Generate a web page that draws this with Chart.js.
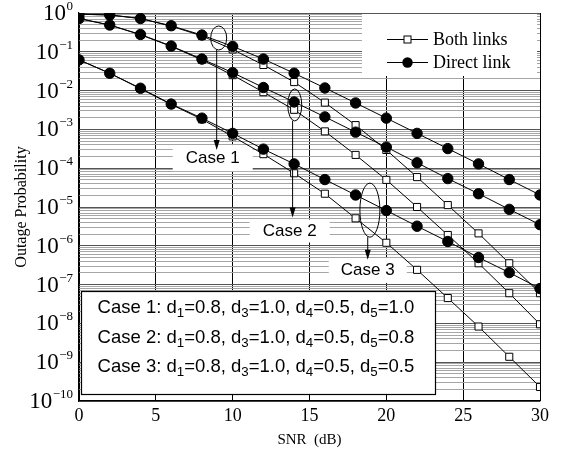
<!DOCTYPE html>
<html><head><meta charset="utf-8">
<script src="https://cdn.jsdelivr.net/npm/chart.js@4/dist/chart.umd.min.js"></script>
<style>html,body{margin:0;padding:0;background:#fff}canvas{display:block}</style>
</head><body>
<canvas id="c" width="561" height="457"></canvas>
<script>
// ---- data ----
const snr = [0,2,4,6,8,10,12,14,16,18,20,22,24,26,28,30];
const xTickValues = [0,5,10,15,20,25,30];
const yDecades = [0,-1,-2,-3,-4,-5,-6,-7,-8,-9,-10];
const seriesNames = ['Both links','Direct link'];
const caseNames = ['Case 1','Case 2','Case 3'];

const case1Direct = [0.93,0.89,0.72,0.47,0.27,0.138,6.5e-2,2.8e-2,1.17e-2,4.8e-3,1.95e-3,7.9e-4,3.2e-4,1.29e-4,5.1e-5,2.04e-5];
const case1Both   = [0.93,0.89,0.72,0.457,0.257,0.115,4.57e-2,1.66e-2,4.9e-3,1.29e-3,2.95e-4,5.9e-5,1.12e-5,2.09e-6,3.55e-7,6.0e-8];
const case2Direct = [0.72,0.49,0.28,0.141,6.5e-2,2.9e-2,1.2e-2,5.1e-3,2.1e-3,8.5e-4,3.5e-4,1.38e-4,5.4e-5,2.2e-5,8.7e-6,3.5e-6];
const case2Both   = [0.72,0.49,0.275,0.138,6.2e-2,2.5e-2,9.1e-3,3.2e-3,8.9e-4,2.2e-4,5.0e-5,1.0e-5,1.9e-6,3.55e-7,6.0e-8,9.5e-9];
const case3Direct = [6.2e-2,2.8e-2,1.15e-2,4.5e-3,1.95e-3,7.9e-4,3.1e-4,1.29e-4,5.1e-5,2.04e-5,8.1e-6,3.2e-6,1.29e-6,5.0e-7,2.04e-7,7.9e-8];
const case3Both   = [6.2e-2,2.8e-2,1.12e-2,4.4e-3,1.82e-3,6.6e-4,2.3e-4,7.4e-5,2.2e-5,5.1e-6,1.2e-6,2.4e-7,4.5e-8,8.3e-9,1.38e-9,2.3e-10];

// case parameters (annotation box)
const d1 = [0.8,0.8,0.8];
const d3 = [1.0,1.0,1.0];
const d4 = [0.5,0.5,0.5];
const d5 = [1.0,0.8,0.5];

// annotation anchors in data coordinates: ellipse centre, arrow tip, label centre
const ellipseSnr   = [9.09, 14.04, 18.93];
const ellipseProb  = [0.227, 4.27e-3, 8.3e-6];
const arrowSnr     = [8.96, 13.9, 18.79];
const arrowTipProb = [2.95e-4, 5.4e-6, 4.4e-7];
const labelSnr     = [8.7, 13.71, 18.79];
const labelProb    = [1.82e-4, 2.4e-6, 2.3e-7];
// annotation box corners / text rows in data coordinates
const boxSnr = [0.16, 23.22];
const boxProb = [6.8e-8, 1.5e-10];
const boxTextSnr = 1.21;
const boxTextProb = [2.5e-8, 4.2e-9, 7.5e-10];

// ---- styles ----
const ellipseR = [[8,12],[7,16],[10,27]];
const labelBox = [[80,26],[80,23],[78,25]];
const SERIF = '"Liberation Serif","Times New Roman",serif';
const SANS = '"Liberation Sans",Arial,sans-serif';

const pts = arr => snr.map((s,i)=>({x:s,y:arr[i]}));
const directStyle = {borderColor:'#000',borderWidth:1,pointStyle:'circle',pointRadius:5.2,pointBackgroundColor:'#000',pointBorderColor:'#000',pointBorderWidth:1,tension:0,clip:0,fill:false};
const bothStyle = {borderColor:'#000',borderWidth:1,pointStyle:'rect',pointRadius:5,pointBackgroundColor:'#fff',pointBorderColor:'#000',pointBorderWidth:1,tension:0,clip:0,fill:false};

const datasets = [
  Object.assign({label:caseNames[0]+' '+seriesNames[1],data:pts(case1Direct)},directStyle),
  Object.assign({label:caseNames[1]+' '+seriesNames[1],data:pts(case2Direct)},directStyle),
  Object.assign({label:caseNames[2]+' '+seriesNames[1],data:pts(case3Direct)},directStyle),
  Object.assign({label:caseNames[0]+' '+seriesNames[0],data:pts(case1Both)},bothStyle),
  Object.assign({label:caseNames[1]+' '+seriesNames[0],data:pts(case2Both)},bothStyle),
  Object.assign({label:caseNames[2]+' '+seriesNames[0],data:pts(case3Both)},bothStyle),
];

function isDecade(v){const e=Math.round(Math.log10(v));return Math.abs(v/Math.pow(10,e)-1)<1e-6;}

function drawSubText(ctx, text, x, y, size){
  let cx = x;
  for(let i=0;i<text.length;i++){
    const c=text[i];
    const isSub = /[0-9]/.test(c) && i>0 && text[i-1]==='d';
    if(isSub){
      ctx.font = (size*0.72)+'px '+SANS;
      ctx.fillText(c, cx, y+size*0.3);
    } else {
      ctx.font = size+'px '+SANS;
      ctx.fillText(c, cx, y);
    }
    cx += ctx.measureText(c).width;
  }
}

function drawArrowDown(ctx,x,y0,y1){
  ctx.beginPath();ctx.moveTo(x,y0);ctx.lineTo(x,y1-8);ctx.stroke();
  ctx.beginPath();ctx.moveTo(x,y1);ctx.lineTo(x-3,y1-10);ctx.lineTo(x+3,y1-10);ctx.closePath();ctx.fill();
}

const overlay = {
  id:'overlay',
  beforeDatasetsDraw(chart){
    const {ctx, chartArea:a, scales:{x,y}} = chart;
    ctx.save();
    ctx.fillStyle='#fff';
    ctx.fillRect(a.right-178, a.top+1, 175, 62);
    for(let i=0;i<3;i++){
      const cx=x.getPixelForValue(labelSnr[i]), cy=y.getPixelForValue(labelProb[i]);
      ctx.fillRect(cx-labelBox[i][0]/2, cy-labelBox[i][1]/2, labelBox[i][0], labelBox[i][1]);
    }
    const bx0=x.getPixelForValue(boxSnr[0]), bx1=x.getPixelForValue(boxSnr[1]);
    const by0=y.getPixelForValue(boxProb[0]), by1=y.getPixelForValue(boxProb[1]);
    ctx.fillRect(bx0,by0,bx1-bx0,by1-by0);
    ctx.restore();
  },
  afterDatasetsDraw(chart){
    const {ctx, chartArea:a, scales:{x,y}} = chart;
    ctx.save();
    ctx.strokeStyle='#000';ctx.fillStyle='#000';ctx.lineWidth=1;
    for(let i=0;i<3;i++){
      const ex=x.getPixelForValue(ellipseSnr[i]), ey=y.getPixelForValue(ellipseProb[i]);
      ctx.beginPath();ctx.ellipse(ex,ey,ellipseR[i][0],ellipseR[i][1],0,0,Math.PI*2);ctx.stroke();
      const ax=x.getPixelForValue(arrowSnr[i]);
      drawArrowDown(ctx, ax, ey+ellipseR[i][1], y.getPixelForValue(arrowTipProb[i]));
      ctx.font='17px '+SANS;ctx.textAlign='center';ctx.textBaseline='middle';
      ctx.fillText(caseNames[i], x.getPixelForValue(labelSnr[i]), y.getPixelForValue(labelProb[i]));
    }
    const bx0=x.getPixelForValue(boxSnr[0]), bx1=x.getPixelForValue(boxSnr[1]);
    const by0=y.getPixelForValue(boxProb[0]), by1=y.getPixelForValue(boxProb[1]);
    ctx.lineWidth=1.2;
    ctx.strokeRect(Math.round(bx0)+0.5,Math.round(by0)+0.5,Math.round(bx1-bx0),Math.round(by1-by0));
    ctx.textAlign='left';ctx.textBaseline='middle';
    for(let i=0;i<3;i++){
      const t = caseNames[i]+': d1='+d1[i].toFixed(1)+', d3='+d3[i].toFixed(1)+', d4='+d4[i].toFixed(1)+', d5='+d5[i].toFixed(1);
      drawSubText(ctx,t,x.getPixelForValue(boxTextSnr),y.getPixelForValue(boxTextProb[i]),18.5);
    }
    ctx.lineWidth=1;
    const lx0=a.right-153, lx1=a.right-112, lm=(lx0+lx1)/2, tx=a.right-107;
    const rows=[a.top+26,a.top+49];
    rows.forEach((ry,k)=>{
      ctx.beginPath();ctx.moveTo(lx0,ry+0.5);ctx.lineTo(lx1,ry+0.5);ctx.stroke();
      if(k===0){ctx.fillStyle='#fff';ctx.fillRect(lm-3.5,ry-3,7,7);ctx.strokeRect(lm-3.5,ry-3,7,7);}
      else{ctx.fillStyle='#000';ctx.beginPath();ctx.arc(lm,ry+0.5,5.2,0,Math.PI*2);ctx.fill();}
      ctx.fillStyle='#000';ctx.font='18px '+SERIF;ctx.textBaseline='middle';
      ctx.fillText(seriesNames[k],tx,ry+1);
    });
    ctx.restore();
  },
  afterDraw(chart){
    // y-axis decade labels: 10 with superscript exponent
    const {ctx, scales:{y}} = chart;
    ctx.save();
    ctx.fillStyle='#000';ctx.textBaseline='alphabetic';
    const right = y.right - 6;
    yDecades.forEach(e=>{
      const py = y.getPixelForValue(Math.pow(10,e));
      ctx.font='13px '+SERIF;
      const ex = String(e).replace('-','\u2212');
      const ew = ctx.measureText(ex).width;
      ctx.textAlign='left';
      ctx.fillText(ex, right-ew, py-3);
      ctx.font='23px '+SERIF;
      ctx.textAlign='right';
      ctx.fillText('10', right-ew-0.5, py+7);
    });
    ctx.restore();
  }
};

new Chart(document.getElementById('c'),{
  type:'line',
  data:{datasets},
  options:{
    responsive:false,animation:false,devicePixelRatio:1,
    layout:{padding:{left:0,right:21,top:13,bottom:0}},
    plugins:{legend:{display:false},tooltip:{enabled:false}},
    scales:{
      x:{type:'linear',min:0,max:30,
        afterBuildTicks:s=>{s.ticks=xTickValues.map(v=>({value:v}));},
        afterFit:s=>{s.height=56;},
        ticks:{font:{family:SERIF,size:18},color:'#000',padding:4,maxRotation:0,autoSkip:false},
        grid:{color:'#000',lineWidth:1,drawTicks:false},
        border:{color:'#000',width:1.2},
        title:{display:true,text:'SNR  (dB)',font:{family:SERIF,size:15},color:'#000',padding:{top:0,bottom:8}}
      },
      y:{type:'logarithmic',min:1e-10,max:1,
        afterBuildTicks:s=>{
          const t=[];
          yDecades.forEach(e=>{
            t.push({value:Math.pow(10,e),major:true});
            if(e<0){for(let m=2;m<=9;m++)t.push({value:m*Math.pow(10,e)});}
          });
          s.ticks=t.sort((p,q)=>p.value-q.value);
        },
        afterFit:s=>{s.width=79;},
        ticks:{display:false},
        grid:{drawTicks:false,lineWidth:1,color:c=>(c.tick&&isDecade(c.tick.value))?'#555':'#a6a6a6'},
        border:{color:'#000',width:1.2},
        title:{display:true,text:'Outage Probability',font:{family:SERIF,size:16},color:'#000',padding:{top:12,bottom:0}}
      }
    }
  },
  plugins:[overlay]
});
</script>
</body></html>
